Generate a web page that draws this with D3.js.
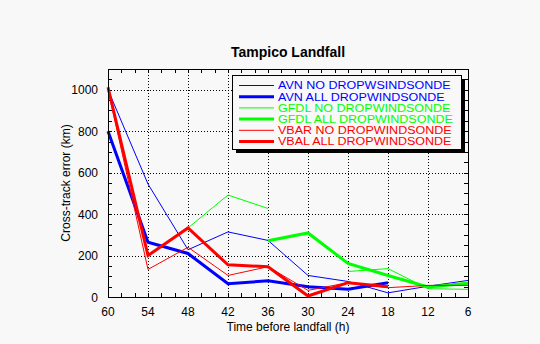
<!DOCTYPE html>
<html>
<head>
<meta charset="utf-8">
<script src="https://cdn.jsdelivr.net/npm/d3@7"></script>
<style>
  html, body { margin: 0; padding: 0; background: #f8f8f8; }
  svg { display: block; }
  text { font-family: "Liberation Sans", Arial, sans-serif; }
</style>
</head>
<body>
<svg id="chart" width="540" height="344"></svg>
<script>
// Forecast lead times (hours before landfall)
const hours = [60, 54, 48, 42, 36, 30, 24, 18, 12, 6];

// Cross-track error (km) per model run; null = no forecast
const avnNo   = [1000, 545, 228, 314, 273, 104, 75, 20, 52, 80];
const avnAll  = [800, 264, 210, 64, 78, 50, 37, 69, null, null];
const gfdlNo  = [null, null, 333, 492, 427, null, 123, 137, 40, 37];
const gfdlAll = [null, null, null, null, 271, 309, 162, 104, 48, 66];
const vbarNo  = [1000, 133, 240, 104, 146, 32, 69, 45, 56, 56];
const vbalAll = [1012, 200, 333, 155, 146, 5, 69, 50, null, null];

const seriesNames = [
  "AVN NO DROPWSINDSONDE",
  "AVN ALL DROPWINDSONDE",
  "GFDL NO DROPWINDSONDE",
  "GFDL ALL DROPWINDSONDE",
  "VBAR NO DROPWINDSONDE",
  "VBAL ALL DROPWINDSONDE"
];
const seriesValues = [avnNo, avnAll, gfdlNo, gfdlAll, vbarNo, vbalAll];
const seriesColors = ["#0000ff", "#0000ff", "#00ff00", "#00ff00", "#ff0000", "#ff0000"];
const seriesWidths = [1, 3, 1, 3, 1, 3];

const xTicks = [60, 54, 48, 42, 36, 30, 24, 18, 12, 6];
const yTicks = [0, 200, 400, 600, 800, 1000];

const svg = d3.select("#chart");
const plotL = 108, plotR = 468, plotT = 69, plotB = 297;

const x = d3.scaleLinear().domain([60, 6]).range([plotL, plotR]);
const y = d3.scaleLinear().domain([0, 1100]).range([plotB, plotT]);

// Dotted grid at the labelled ticks
const grid = svg.append("g").attr("stroke", "#000").attr("stroke-dasharray", "1,2")
  .attr("shape-rendering", "crispEdges");
xTicks.filter(t => t !== 60 && t !== 6).forEach(t => {
  grid.append("line").attr("x1", x(t) + 0.5).attr("x2", x(t) + 0.5).attr("y1", plotT).attr("y2", plotB);
});
yTicks.filter(t => t !== 0).forEach(t => {
  grid.append("line").attr("x1", plotL).attr("x2", plotR).attr("y1", y(t) + 0.5).attr("y2", y(t) + 0.5);
});

// Inward ticks on all four sides
const tickLen = 4;
const ticks = svg.append("g").attr("stroke", "#000").attr("shape-rendering", "crispEdges");
d3.range(6, 60.001, 2).forEach(t => {
  ticks.append("line").attr("x1", x(t) + 0.5).attr("x2", x(t) + 0.5).attr("y1", plotB).attr("y2", plotB - tickLen);
  ticks.append("line").attr("x1", x(t) + 0.5).attr("x2", x(t) + 0.5).attr("y1", plotT).attr("y2", plotT + tickLen);
});
d3.range(0, 1100.001, 50).forEach(t => {
  ticks.append("line").attr("x1", plotL).attr("x2", plotL + tickLen).attr("y1", y(t) + 0.5).attr("y2", y(t) + 0.5);
  ticks.append("line").attr("x1", plotR).attr("x2", plotR - tickLen).attr("y1", y(t) + 0.5).attr("y2", y(t) + 0.5);
});

// Tick labels
svg.append("g").selectAll("text").data(xTicks).join("text")
  .attr("x", d => x(d)).attr("y", 316).attr("text-anchor", "middle")
  .attr("font-size", 12).text(d => d);
svg.append("g").selectAll("text").data(yTicks).join("text")
  .attr("x", 98).attr("y", d => y(d) + 4.5).attr("text-anchor", "end")
  .attr("font-size", 12).text(d => d);

// Axis titles and chart title
svg.append("text").attr("x", 288).attr("y", 331).attr("text-anchor", "middle")
  .attr("font-size", 12).text("Time before landfall (h)");
svg.append("text").attr("transform", "translate(70,183) rotate(-90)")
  .attr("text-anchor", "middle").attr("font-size", 12).text("Cross-track error (km)");
svg.append("text").attr("x", 288).attr("y", 57).attr("text-anchor", "middle")
  .attr("font-size", 14).attr("font-weight", "bold").text("Tampico Landfall");

// Data lines
const line = d3.line()
  .defined(d => d.v !== null)
  .x(d => x(d.h)).y(d => y(d.v));
seriesValues.forEach((vals, i) => {
  svg.append("path")
    .datum(hours.map((h, j) => ({ h, v: vals[j] })))
    .attr("fill", "none")
    .attr("stroke", seriesColors[i])
    .attr("stroke-width", seriesWidths[i])
    .attr("stroke-linejoin", "miter")
    .attr("d", line);
});

// Plot frame
svg.append("rect").attr("x", plotL + 0.5).attr("y", plotT + 0.5)
  .attr("width", plotR - plotL).attr("height", plotB - plotT)
  .attr("fill", "none").attr("stroke", "#000").attr("shape-rendering", "crispEdges");

// Legend with drop shadow; rows are tightly packed, so the labels use a
// smaller size stretched horizontally to the wider run length
const lg = svg.append("g");
const lx = 232, ly = 75, lw = 229, lh = 74;
lg.append("rect").attr("x", lx + 4).attr("y", ly + 4).attr("width", lw).attr("height", lh)
  .attr("fill", "#000").attr("shape-rendering", "crispEdges");
lg.append("rect").attr("x", lx + 0.5).attr("y", ly + 0.5).attr("width", lw).attr("height", lh)
  .attr("fill", "#f8f8f8").attr("stroke", "#000").attr("shape-rendering", "crispEdges");
seriesNames.forEach((name, i) => {
  const ry = 85.5 + i * 11.2;
  lg.append("line").attr("x1", 239).attr("x2", 274).attr("y1", ry).attr("y2", ry)
    .attr("stroke", seriesColors[i]).attr("stroke-width", seriesWidths[i]);
  const t = lg.append("text").attr("x", 278).attr("y", ry + 3.8).attr("font-size", 10)
    .attr("fill", seriesColors[i]).text(name);
  const w = t.node().getComputedTextLength();
  t.attr("textLength", w * 1.25).attr("lengthAdjust", "spacingAndGlyphs");
});
</script>
</body>
</html>
